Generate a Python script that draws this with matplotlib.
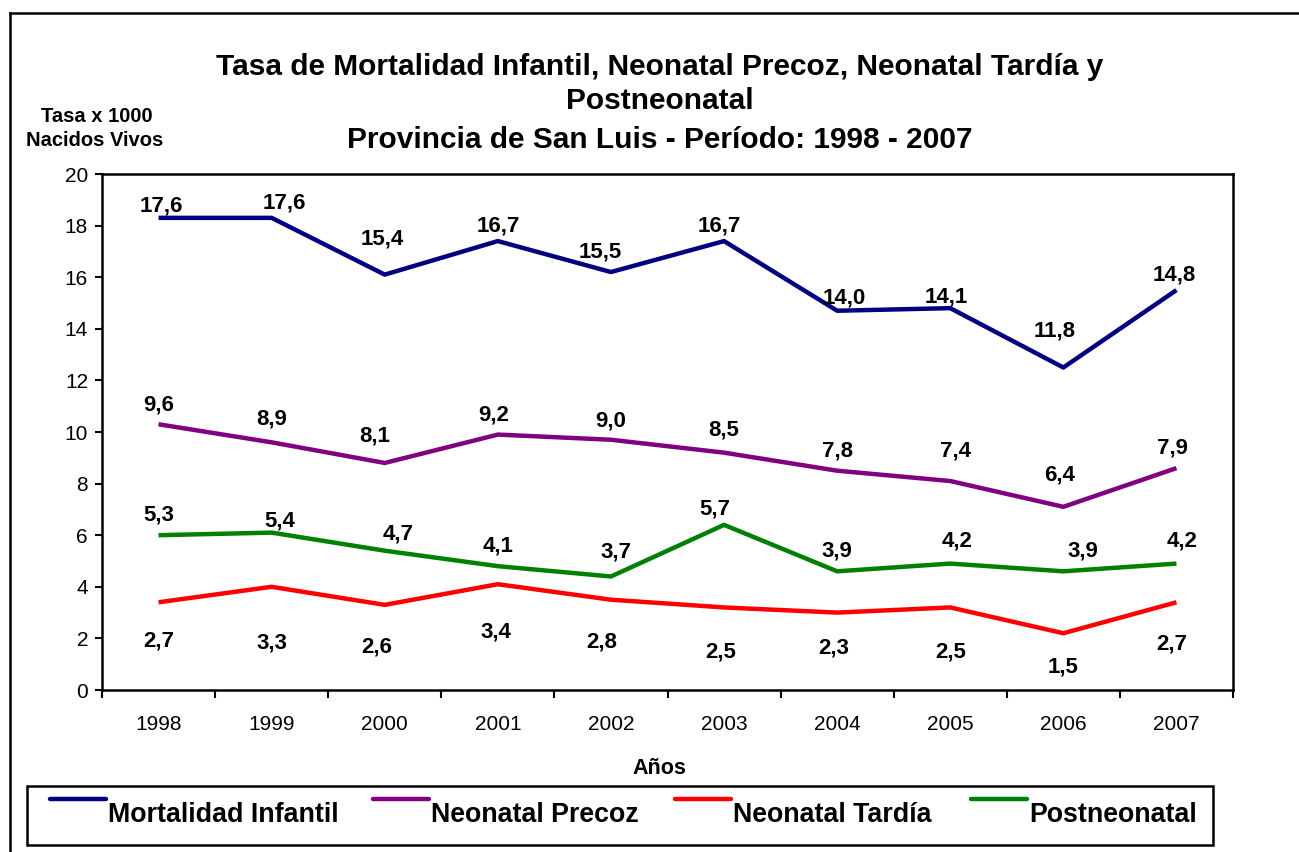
import matplotlib
matplotlib.use("Agg")
import matplotlib.pyplot as plt
from matplotlib.lines import Line2D
from matplotlib.patches import Rectangle

plt.rcParams["font.family"] = ["Liberation Sans", "DejaVu Sans"]

años = ["1998", "1999", "2000", "2001", "2002", "2003", "2004", "2005", "2006", "2007"]
infantil = [17.6, 17.6, 15.4, 16.7, 15.5, 16.7, 14.0, 14.1, 11.8, 14.8]
precoz = [9.6, 8.9, 8.1, 9.2, 9.0, 8.5, 7.8, 7.4, 6.4, 7.9]
tardia = [2.7, 3.3, 2.6, 3.4, 2.8, 2.5, 2.3, 2.5, 1.5, 2.7]
postneo = [5.3, 5.4, 4.7, 4.1, 3.7, 5.7, 3.9, 4.2, 3.9, 4.2]

nombres = ["Mortalidad Infantil", "Neonatal Precoz", "Neonatal Tardía", "Postneonatal"]
colores = ["#000080", "#800080", "#FF0000", "#008000"]

# en el original las líneas quedan ~0,7 por encima del valor rotulado
DESPLAZ = 0.7

# posición de los rótulos respecto del punto (pixeles)
dy_inf = [12, 15, 36, 15, 20, 15, 13, 11, 36, 15]
dx_inf = [3, 13, -3, 0, -11, -5, 7, -4, -9, -2]
dy_pre = [19, 23, 27, 20, 19, 23, 20, 30, 32, 20]
dx_pre = [0, 0, -10, -4, 0, 0, 0, 5, -4, -4]
dy_tar = [-39, -56, -42, -48, -42, -45, -35, -45, -34, -42]
dx_tar = [0, 0, -8, -2, -9, -3, -3, 0, 0, -5]
dy_pos = [20, 12, 17, 20, 24, 16, 20, 23, 20, 23]
dx_pos = [0, 8, 13, 0, 5, -9, 0, 7, 20, 6]

W, H = 1299, 852
fig = plt.figure(figsize=(W / 100, H / 100), dpi=100)

def fx(px):
    return px / W

def fy(py):
    return 1 - py / H

ax = fig.add_axes([fx(102), fy(690), fx(1233) - fx(102), fy(174) - fy(690)])

x = list(range(len(años)))
series = [(infantil, dx_inf, dy_inf), (precoz, dx_pre, dy_pre),
          (tardia, dx_tar, dy_tar), (postneo, dx_pos, dy_pos)]
orden = [0, 1, 3, 2]
for i in orden:
    vals, dxs, dys = series[i]
    yv = [v + DESPLAZ for v in vals]
    ax.plot(x, yv, color=colores[i], lw=3.2, solid_capstyle="butt", zorder=3)
    for xi, yi, v, dx, dy in zip(x, yv, vals, dxs, dys):
        ax.annotate(f"{v:.1f}".replace(".", ","), (xi, yi), xytext=(dx, dy),
                    textcoords="offset pixels", ha="center", va="center",
                    fontsize=16, fontweight="bold", color="black", zorder=4)

ax.set_xlim(-0.5, len(años) - 0.5)
ax.set_ylim(0, 20)
ax.set_yticks(range(0, 21, 2))
ax.set_xticks([i - 0.5 for i in range(len(años) + 1)])
ax.set_xticklabels([])
ax.set_xticks(x, minor=True)
ax.set_xticklabels(años, minor=True)
ax.tick_params(axis="x", which="major", length=6, width=1.5, direction="out")
ax.tick_params(axis="x", which="minor", length=0, pad=18, labelsize=15)
ax.tick_params(axis="y", length=5, width=1.5, direction="out", pad=5, labelsize=15)
for s in ax.spines.values():
    s.set_linewidth(1.8)

# títulos
fig.text(fx(660), fy(67), "Tasa de Mortalidad Infantil, Neonatal Precoz, Neonatal Tardía y",
         ha="center", va="center", fontsize=21.5, fontweight="bold")
fig.text(fx(660), fy(101), "Postneonatal", ha="center", va="center",
         fontsize=21.5, fontweight="bold")
fig.text(fx(660), fy(140), "Provincia de San Luis - Período: 1998 - 2007",
         ha="center", va="center", fontsize=21.5, fontweight="bold")
fig.text(fx(97), fy(116), "Tasa x 1000", ha="center", va="center",
         fontsize=14.5, fontweight="bold")
fig.text(fx(95), fy(141), "Nacidos Vivos", ha="center", va="center",
         fontsize=14.5, fontweight="bold")
fig.text(fx(659), fy(768), "Años", ha="center", va="center",
         fontsize=15.5, fontweight="bold")

# marco exterior
fig.add_artist(Line2D([fx(10), fx(10)], [fy(13), 0], color="black", lw=1.8))
fig.add_artist(Line2D([fx(10), 1], [fy(13), fy(13)], color="black", lw=1.8))

# leyenda
fig.add_artist(Rectangle((fx(27), fy(845)), fx(1213) - fx(27), fy(786) - fy(845),
                         transform=fig.transFigure, fill=False, ec="black", lw=1.8))
manijas = [50, 373, 675, 971]
for i, nombre in enumerate(nombres):
    hx = manijas[i]
    fig.add_artist(Line2D([fx(hx), fx(hx + 56)], [fy(799), fy(799)],
                          color=colores[i], lw=3.2, solid_capstyle="round"))
    fig.text(fx(hx + 58), fy(815), nombre, ha="left", va="center",
             fontsize=19.3, fontweight="bold")

fig.savefig("out.png", dpi=100)
